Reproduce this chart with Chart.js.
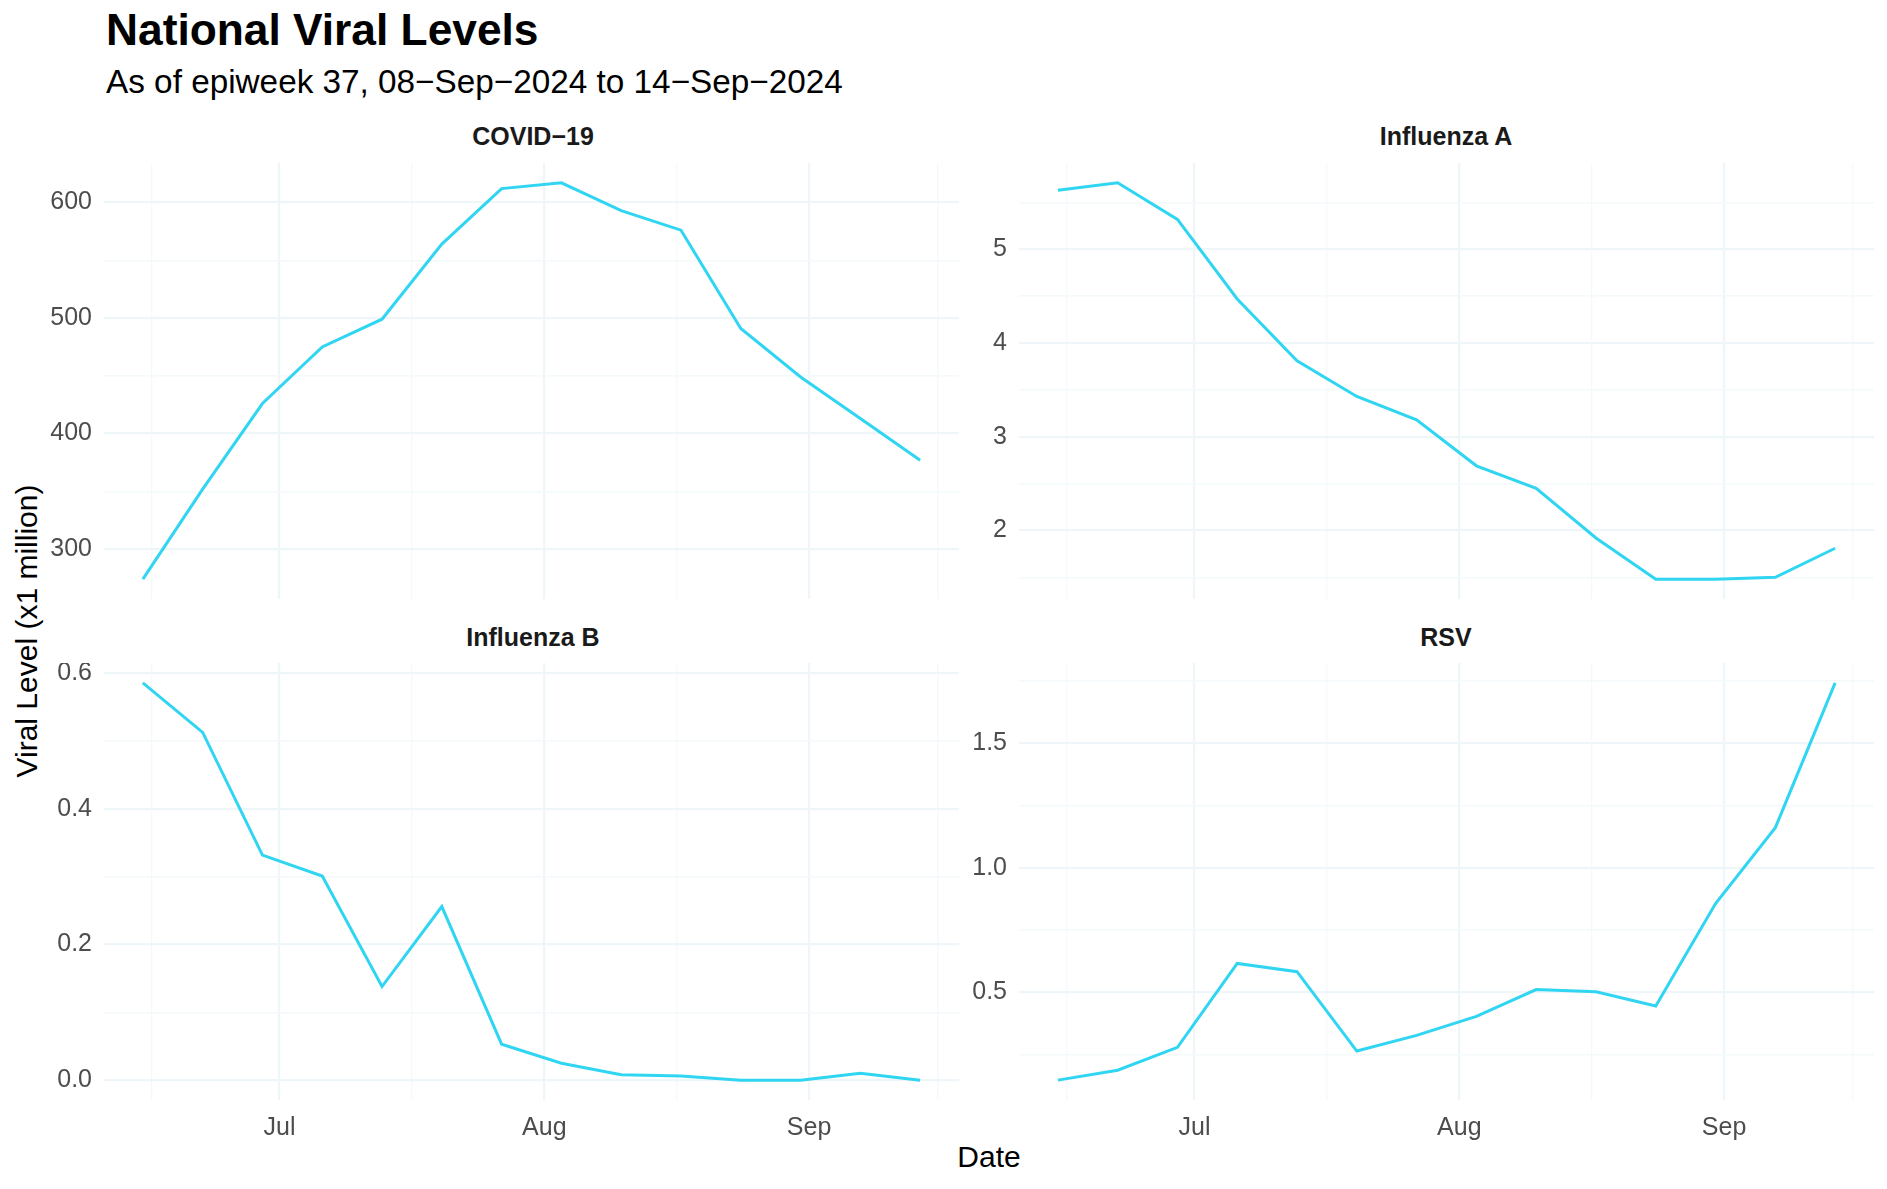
<!DOCTYPE html>
<html>
<head>
<meta charset="utf-8">
<title>National Viral Levels</title>
<script src="https://cdn.jsdelivr.net/npm/chart.js@4.4.1/dist/chart.umd.min.js"></script>
<style>
    body { margin: 0; background: #fff; width: 1887px; height: 1189px; position: relative; overflow: hidden;
           font-family: "Liberation Sans", Arial, Helvetica, sans-serif; }
    .txt { position: absolute; white-space: nowrap; line-height: 1; color: #000; }
    #title { left: 106px; top: 8px; font-size: 44.3px; font-weight: bold; }
    #subtitle { left: 106px; top: 65px; font-size: 33.3px; }
    .strip { font-size: 25px; font-weight: bold; color: #1a1a1a; transform: translateX(-50%); }
    #xtitle { left: 989px; top: 1142px; font-size: 30px; transform: translateX(-50%); }
    #ytitle { left: 27px; top: 631px; font-size: 30px; transform: translate(-50%, -50%) rotate(-90deg); }
    canvas { position: absolute; }
</style>
</head>
<body>
<div class="txt" id="title">National Viral Levels</div>
<div class="txt" id="subtitle">As of epiweek 37, 08−Sep−2024 to 14−Sep−2024</div>
<div class="txt strip" style="left:533px; top:124px;">COVID−19</div>
<div class="txt strip" style="left:1446px; top:124px;">Influenza A</div>
<div class="txt strip" style="left:533px; top:625px;">Influenza B</div>
<div class="txt strip" style="left:1446px; top:625px;">RSV</div>
<div class="txt" id="xtitle">Date</div>
<div class="txt" id="ytitle">Viral Level (x1 million)</div>

<canvas id="chartCovid" width="955" height="436" style="left:4px; top:163px;"></canvas>
<canvas id="chartFluA" width="955" height="436" style="left:919px; top:163px;"></canvas>
<canvas id="chartFluB" width="955" height="497" style="left:4px; top:663px;"></canvas>
<canvas id="chartRsv" width="955" height="497" style="left:919px; top:663px;"></canvas>

<script>
// semanas epidemiologicas (fim de semana)
const datas = ['2024-06-15', '2024-06-22', '2024-06-29', '2024-07-06', '2024-07-13', '2024-07-20', '2024-07-27',
               '2024-08-03', '2024-08-10', '2024-08-17', '2024-08-24', '2024-08-31', '2024-09-07', '2024-09-14'];

const covid = [274, 352, 426, 475, 499, 564, 612, 617, 593, 576, 491, 449, 413, 377];
const fluA  = [5.63, 5.71, 5.32, 4.47, 3.81, 3.43, 3.18, 2.69, 2.45, 1.92, 1.48, 1.48, 1.50, 1.81];
const fluB  = [0.586, 0.513, 0.332, 0.301, 0.138, 0.256, 0.053, 0.025, 0.008, 0.006, 0.0, 0.0, 0.010, 0.0];
const rsv   = [0.146, 0.186, 0.278, 0.615, 0.582, 0.263, 0.326, 0.402, 0.510, 0.501, 0.444, 0.856, 1.161, 1.743];

// eixo x
const mesTicks = ['2024-07-01', '2024-08-01', '2024-09-01'];
const mesLabels = ['Jul', 'Aug', 'Sep'];
const mesMinor = ['2024-06-16T00:00:00Z', '2024-07-16T12:00:00Z', '2024-08-16T12:00:00Z', '2024-09-16T00:00:00Z'];

// eixos y
const covidTicks = [300, 400, 500, 600];
const covidLabels = ['300', '400', '500', '600'];
const covidMinor = [350, 450, 550];

const fluATicks = [2, 3, 4, 5];
const fluALabels = ['2', '3', '4', '5'];
const fluAMinor = [1.5, 2.5, 3.5, 4.5, 5.5];

const fluBTicks = [0, 0.2, 0.4, 0.6];
const fluBLabels = ['0.0', '0.2', '0.4', '0.6'];
const fluBMinor = [0.1, 0.3, 0.5];

const rsvTicks = [0.5, 1.0, 1.5];
const rsvLabels = ['0.5', '1.0', '1.5'];
const rsvMinor = [0.25, 0.75, 1.25, 1.75];

const COR_LINHA = '#30d5f2';
const GRID_MAJOR = '#eef6fa';
const GRID_MINOR = '#f4f9fc';
const FONTE = { family: '"Liberation Sans", Arial, sans-serif', size: 25 };

const toDay = s => (Date.parse(s) - Date.parse('2024-01-01T00:00:00Z')) / 864e5;
const dias = datas.map(toDay);

// expansao de 5% como no ggplot
function expandir(vals) {
    const lo = Math.min(...vals), hi = Math.max(...vals);
    const p = (hi - lo) * 0.05;
    return [lo - p, hi + p];
}
const [xMin, xMax] = expandir(dias);

function montarTicks(major, labels, minor) {
    return major.map((v, i) => ({ value: v, lbl: labels[i], minor: false }))
        .concat(minor.map(v => ({ value: v, lbl: '', minor: true })))
        .sort((a, b) => a.value - b.value);
}

const gridOpts = {
    color: c => (c.tick && c.tick.minor) ? GRID_MINOR : GRID_MAJOR,
    lineWidth: c => (c.tick && c.tick.minor) ? 1.4 : 2.2,
    drawTicks: false
};

function criarPainel(id, valores, yTicks, yLabels, yMinor, mostrarX) {
    const [yMin, yMax] = expandir(valores);
    const ctx = document.getElementById(id).getContext('2d');
    return new Chart(ctx, {
        type: 'line',
        data: {
            datasets: [{
                data: dias.map((d, i) => ({ x: d, y: valores[i] })),
                borderColor: COR_LINHA,
                borderWidth: 3,
                pointRadius: 0,
                tension: 0,
                fill: false
            }]
        },
        options: {
            responsive: false,
            animation: false,
            layout: { padding: 0 },
            plugins: { legend: { display: false }, tooltip: { enabled: false } },
            scales: {
                x: {
                    type: 'linear',
                    min: xMin,
                    max: xMax,
                    afterBuildTicks: s => {
                        s.ticks = montarTicks(mesTicks.map(toDay), mesLabels, mesMinor.map(toDay));
                    },
                    afterFit: s => {
                        s.height = mostrarX ? 60 : 0;
                        s.paddingLeft = 0;
                        s.paddingRight = 0;
                    },
                    ticks: {
                        display: mostrarX,
                        autoSkip: false,
                        maxRotation: 0,
                        padding: 13,
                        color: '#4d4d4d',
                        font: FONTE,
                        callback: (v, i, t) => t[i].lbl
                    },
                    grid: gridOpts,
                    border: { display: false }
                },
                y: {
                    type: 'linear',
                    min: yMin,
                    max: yMax,
                    afterBuildTicks: s => {
                        s.ticks = montarTicks(yTicks, yLabels, yMinor);
                    },
                    afterFit: s => {
                        s.width = 100;
                        s.paddingTop = 0;
                        s.paddingBottom = 0;
                    },
                    ticks: {
                        autoSkip: false,
                        padding: 12,
                        color: '#4d4d4d',
                        font: FONTE,
                        callback: (v, i, t) => t[i].lbl
                    },
                    grid: gridOpts,
                    border: { display: false }
                }
            }
        }
    });
}

let charts = {};
charts.covid = criarPainel('chartCovid', covid, covidTicks, covidLabels, covidMinor, false);
charts.fluA = criarPainel('chartFluA', fluA, fluATicks, fluALabels, fluAMinor, false);
charts.fluB = criarPainel('chartFluB', fluB, fluBTicks, fluBLabels, fluBMinor, true);
charts.rsv = criarPainel('chartRsv', rsv, rsvTicks, rsvLabels, rsvMinor, true);
</script>
</body>
</html>
